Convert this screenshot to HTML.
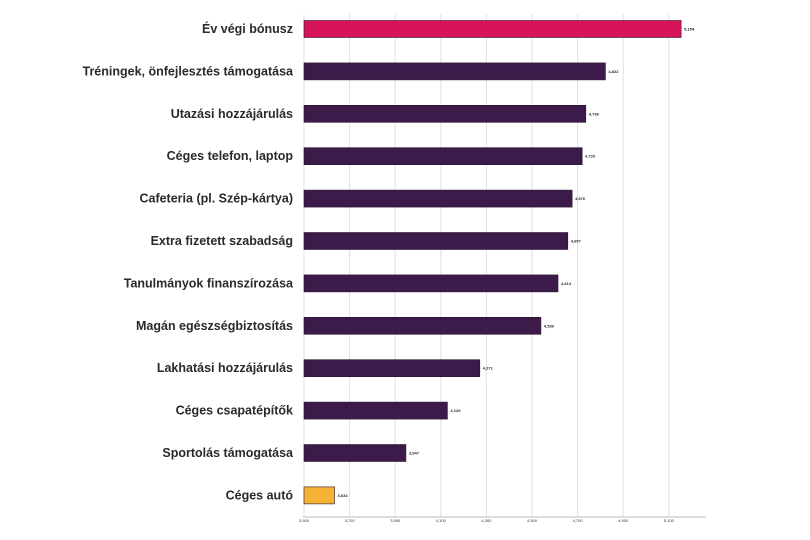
<!DOCTYPE html>
<html><head><meta charset="utf-8"><style>
html,body{margin:0;padding:0;background:#fff;}
svg{display:block;font-family:"Liberation Sans",sans-serif;}
</style></head><body>
<svg id="chart" width="810" height="540"></svg>
<script>
const categories=["Év végi bónusz","Tréningek, önfejlesztés támogatása","Utazási hozzájárulás","Céges telefon, laptop","Cafeteria (pl. Szép-kártya)","Extra fizetett szabadság","Tanulmányok finanszírozása","Magán egészségbiztosítás","Lakhatási hozzájárulás","Céges csapatépítők","Sportolás támogatása","Céges autó"];
const values=[5.154,4.822,4.736,4.720,4.676,4.657,4.614,4.539,4.271,4.129,3.947,3.634];
const valueLabels=["5,154","4,822","4,736","4,720","4,676","4,657","4,614","4,539","4,271","4,129","3,947","3,634"];
const tickValues=[3.5,3.7,3.9,4.1,4.3,4.5,4.7,4.9,5.1];
const tickLabels=["3,500","3,700","3,900","4,100","4,300","4,500","4,700","4,900","5,100"];
const NS="http://www.w3.org/2000/svg";
const svg=document.getElementById('chart');
const x0=304,pxPerUnit=228,xMin=3.5;
function xs(v){return x0+(v-xMin)*pxPerUnit;}
function ys(i){return 29+i*42.4;}
function mk(t,a){const e=document.createElementNS(NS,t);for(const k in a)e.setAttribute(k,a[k]);svg.appendChild(e);return e;}
tickValues.forEach((t,i)=>{
  const g=mk('line',{x1:xs(t),x2:xs(t),y1:14,y2:517,stroke:'#e2e2e2','stroke-width':1});
  
  
  const tl=mk('text',{x:xs(t),y:522,'font-size':4,'text-anchor':'middle',fill:'#333'});
  tl.textContent=tickLabels[i];
  
  
});
const ax=mk('line',{x1:303,x2:706,y1:517,y2:517,stroke:'#bbb','stroke-width':1});


categories.forEach((c,i)=>{
  const y=ys(i);
  const col=i===0?'#d7145a':(i===categories.length-1?'#f5b335':'#3c1a4a');
  const r=mk('rect',{x:x0,y:y-8.5,width:xs(values[i])-x0,height:17,fill:col,stroke:'#2a1433','stroke-width':0.6});
  
  
  const vl=mk('text',{x:xs(values[i])+3,y:y+1.5,'font-size':4,fill:'#222','font-weight':'bold'});
  vl.textContent=valueLabels[i];
  
  
  const cl=mk('text',{x:293,y:y+4,'font-size':12.5,'text-anchor':'end',fill:'#2a2a2a','font-weight':'bold'});
  cl.textContent=c;
  
  
});
</script>
</body></html>
